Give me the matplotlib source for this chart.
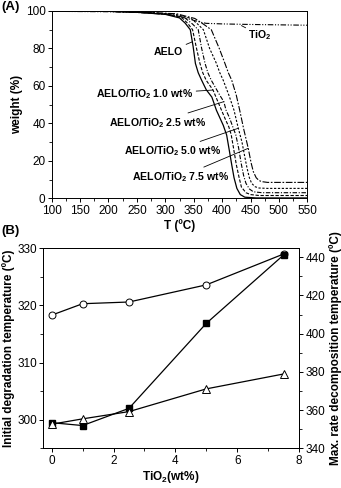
import matplotlib
matplotlib.use("Agg")
import matplotlib.pyplot as plt
from matplotlib.ticker import MultipleLocator

plt.rcParams['font.family'] = ['Liberation Sans', 'DejaVu Sans']
plt.rcParams['font.size'] = 8
plt.rcParams['mathtext.fontset'] = 'custom'
plt.rcParams['mathtext.rm'] = 'Liberation Sans'
plt.rcParams['mathtext.bf'] = 'Liberation Sans:bold'

# ---- panel A: TGA curves ----
t_aelo = [100, 200, 250, 300, 325, 335, 344, 349, 353, 358, 364, 372, 382, 390, 396, 402, 408, 413, 417, 421, 426, 432, 440, 460, 550]
w_aelo = [100, 99.8, 99.3, 98.2, 96.3, 93.5, 90, 81, 72, 67, 63, 58, 54, 47, 43, 39, 33.8, 25, 17.8, 11, 5.3, 2, 0.6, 0.2, 0.2]

t_10 = [100, 200, 250, 305, 330, 340, 348, 355, 361, 366, 372, 384, 392, 399, 406, 412, 416, 420, 425, 430, 434, 442, 450, 465, 550]
w_10 = [100, 99.8, 99.4, 98.2, 96.2, 93.2, 90, 80, 72, 67, 63, 57.8, 52, 47, 42, 38, 34, 27, 18, 11, 6, 3, 2, 1.5, 1.5]

t_25 = [100, 200, 250, 310, 335, 348, 358, 364, 370, 375, 381, 396, 403, 407, 413, 419, 424, 429, 434, 438, 442, 448, 455, 470, 550]
w_25 = [100, 99.8, 99.5, 98.3, 96.2, 93, 90, 80, 72, 67, 63, 55, 51.6, 47, 43, 38, 34, 27, 18, 12, 8, 5, 3.5, 3, 3]

t_50 = [100, 200, 250, 315, 345, 357, 367, 378, 390, 396, 402, 412, 421, 428, 435, 440, 444, 448, 452, 458, 465, 480, 550]
w_50 = [100, 99.8, 99.5, 98.4, 96.1, 93, 90, 80, 72, 67, 63, 55, 47, 38, 30, 22, 16, 11, 8, 6.2, 5.5, 5.3, 5.3]

t_75 = [100, 200, 250, 320, 352, 367, 381, 395, 405, 411, 417, 425, 431, 438, 446, 451, 455, 460, 465, 470, 480, 550]
w_75 = [100, 99.8, 99.5, 98.5, 96, 93, 90, 80, 72, 67, 63, 55, 47, 37, 26.7, 19, 14.2, 11, 9.5, 8.9, 8.5, 8.5]

t_tio2 = [100, 200, 250, 300, 330, 350, 365, 372, 400, 450, 500, 550]
w_tio2 = [99.8, 99.6, 99.2, 98.3, 96.8, 95, 93.8, 93.4, 93.1, 92.8, 92.6, 92.4]

# ---- panel B ----
tio2_wt = [0, 1, 2.5, 5, 7.5]
t_initial = [318.3, 320.3, 320.6, 323.6, 329.0]
t_max_sq = [353.4, 351.9, 360.9, 405.4, 441.2]
t_max_tri = [352.6, 355.4, 359.2, 371.1, 378.9]

fig = plt.figure(figsize=(3.41, 4.88), dpi=100)

axA = fig.add_axes([0.1516, 0.5936, 0.7496, 0.3839])
axA.plot(t_aelo, w_aelo, 'k-', lw=0.9)
axA.plot(t_10, w_10, 'k', lw=0.8, dashes=(3, 1.5))
axA.plot(t_25, w_25, 'k', lw=0.8, dashes=(4, 1.5, 1, 1.5))
axA.plot(t_50, w_50, 'k', lw=0.8, dashes=(2, 1.5))
axA.plot(t_75, w_75, 'k', lw=0.8, dashes=(6, 1.5, 1.5, 1.5))
axA.plot(t_tio2, w_tio2, 'k', lw=0.8, dashes=(5, 1.5, 1, 1.5, 1, 1.5))
axA.set_xlim(100, 550)
axA.set_ylim(0, 100)
axA.xaxis.set_major_locator(MultipleLocator(50))
axA.xaxis.set_minor_locator(MultipleLocator(25))
axA.yaxis.set_major_locator(MultipleLocator(20))
axA.yaxis.set_minor_locator(MultipleLocator(10))
axA.tick_params(which='major', direction='out', length=3, width=0.7, labelsize=8.5, pad=1.5)
axA.tick_params(which='minor', direction='out', length=2, width=0.6)
axA.set_xlabel('T (ºC)', fontweight='bold', fontsize=8.5, labelpad=2)
axA.set_ylabel('weight (%)', fontweight='bold', fontsize=8.5, labelpad=2)

lab = dict(fontsize=7.6, fontweight='bold', ha='center', va='center')
arr = dict(arrowstyle='-', lw=0.6, color='k', shrinkA=0, shrinkB=0)
sub2 = r'$_\mathbf{2}$'
axA.annotate('TiO' + sub2, xy=(434, 92.2), xytext=(467, 87), arrowprops=arr, **lab)
axA.annotate('AELO', xy=(348, 83.6), xytext=(306, 78.3), arrowprops=arr, **lab)
axA.annotate('AELO/TiO' + sub2 + ' 1.0 wt%', xy=(384, 57.8), xytext=(264, 55.5), arrowprops=arr, **lab)
axA.annotate('AELO/TiO' + sub2 + ' 2.5 wt%', xy=(403, 51.6), xytext=(286, 40.4), arrowprops=arr, **lab)
axA.annotate('AELO/TiO' + sub2 + ' 5.0 wt%', xy=(428.5, 37.4), xytext=(312, 25.2), arrowprops=arr, **lab)
axA.annotate('AELO/TiO' + sub2 + ' 7.5 wt%', xy=(446, 26.7), xytext=(327.5, 11.5), arrowprops=arr, **lab)
fig.text(0.003, 0.985, '(A)', fontsize=9.5, fontweight='bold', va='center', ha='left')

axB = fig.add_axes([0.127, 0.0814, 0.750, 0.4098])
axB.plot(tio2_wt, t_initial, 'k-o', lw=0.9, ms=5, mfc='white', mec='k', mew=0.7)
axB.set_xlim(-0.27, 8)
axB.set_ylim(295, 330)
axB.xaxis.set_major_locator(MultipleLocator(2))
axB.xaxis.set_minor_locator(MultipleLocator(1))
axB.yaxis.set_major_locator(MultipleLocator(10))
axB.yaxis.set_minor_locator(MultipleLocator(5))
axB.tick_params(which='major', direction='out', length=3, width=0.7, labelsize=8.5, pad=1.5)
axB.tick_params(which='minor', direction='out', length=2, width=0.6)
axB.set_xlabel('TiO' + sub2 + '(wt%)', fontweight='bold', fontsize=8.5, labelpad=2)
axB.set_ylabel('Initial degradation temperature (ºC)', fontweight='bold', fontsize=8.5, labelpad=2)

axR = axB.twinx()
axR.plot(tio2_wt, t_max_sq, 'k-s', lw=0.9, ms=5, mfc='black', mec='k')
axR.plot(tio2_wt, t_max_tri, 'k-^', lw=0.9, ms=5.5, mfc='white', mec='k', mew=0.7)
axR.set_ylim(340, 444.7)
axR.yaxis.set_major_locator(MultipleLocator(20))
axR.yaxis.set_minor_locator(MultipleLocator(10))
axR.tick_params(which='major', direction='out', length=3, width=0.7, labelsize=8.5, pad=1.5)
axR.tick_params(which='minor', direction='out', length=2, width=0.6)
axR.set_ylabel('Max. rate decomposition temperature (ºC)', fontweight='bold', fontsize=8.5, labelpad=3)
fig.text(0.003, 0.527, '(B)', fontsize=9.5, fontweight='bold', va='center', ha='left')

for ax in (axA, axB, axR):
    for s in ax.spines.values():
        s.set_linewidth(0.7)

fig.savefig('out.png', dpi=100)
